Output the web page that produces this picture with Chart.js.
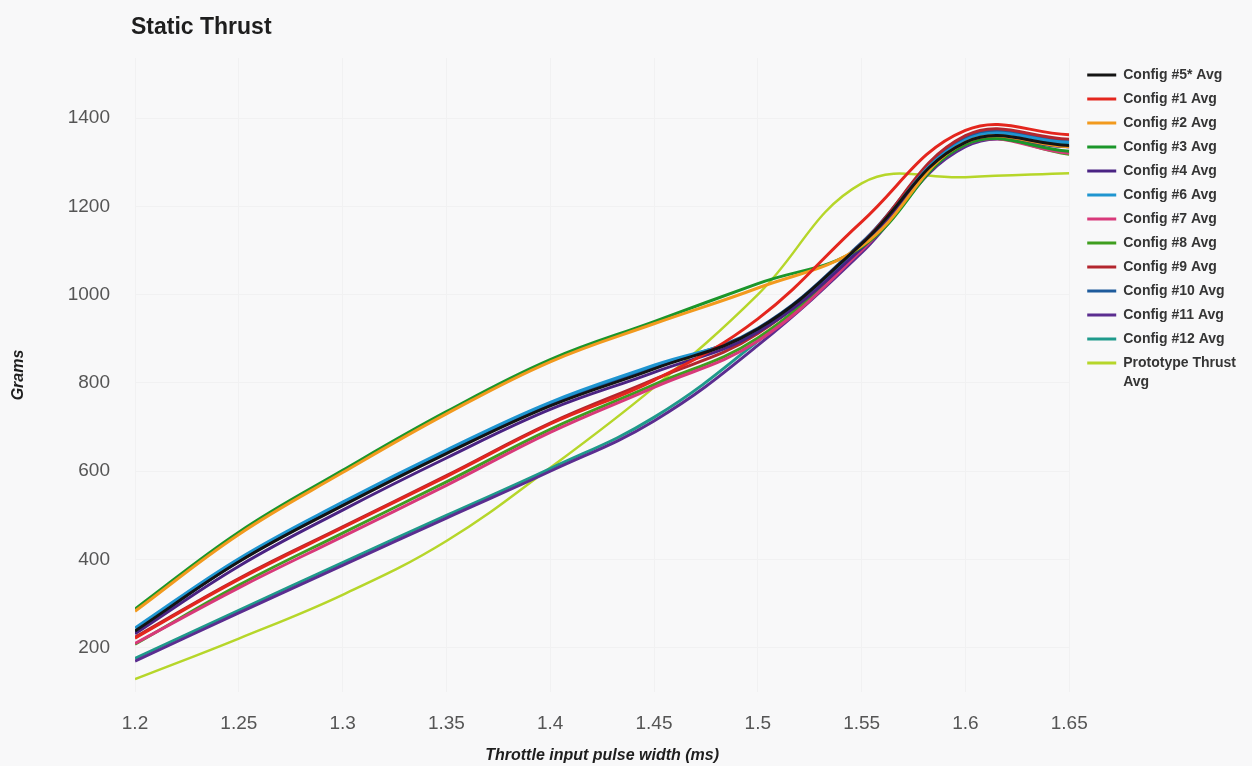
<!DOCTYPE html>
<html>
<head>
<meta charset="utf-8">
<script src="https://cdn.jsdelivr.net/npm/chart.js@4.4.1/dist/chart.umd.min.js"></script>
<style>
  html, body { margin: 0; padding: 0; background: #f8f8f9; }
  canvas { display: block; }
</style>
</head>
<body>
<canvas id="c" width="1252" height="766"></canvas>
<script>
// ---- text ----
const chartTitle = 'Static Thrust';
const xAxisTitle = 'Throttle input pulse width (ms)';
const yAxisTitle = 'Grams';

// ---- axes ----
const pulseWidths = [1.2, 1.25, 1.3, 1.35, 1.4, 1.45, 1.5, 1.55, 1.6, 1.65];
const xTicks = [1.2, 1.25, 1.3, 1.35, 1.4, 1.45, 1.5, 1.55, 1.6, 1.65];
const yTicks = [200, 400, 600, 800, 1000, 1200, 1400];

// ---- series (grams at each pulse width) ----
const seriesNames = ['Config #5* Avg', 'Config #1 Avg', 'Config #2 Avg', 'Config #3 Avg', 'Config #4 Avg',
  'Config #6 Avg', 'Config #7 Avg', 'Config #8 Avg', 'Config #9 Avg', 'Config #10 Avg',
  'Config #11 Avg', 'Config #12 Avg', 'Prototype Thrust Avg'];
const config5 = [238, 395, 522, 640, 748, 832, 922, 1115, 1345, 1338];
const config1 = [222, 355, 472, 588, 707, 806, 945, 1165, 1372, 1362];
const config2 = [283, 457, 597, 730, 848, 934, 1015, 1110, 1345, 1335];
const config3 = [288, 462, 602, 735, 853, 939, 1025, 1108, 1340, 1325];
const config4 = [232, 385, 512, 630, 740, 824, 915, 1105, 1342, 1335];
const config6 = [245, 402, 530, 648, 756, 840, 920, 1112, 1350, 1345];
const config7 = [210, 336, 452, 568, 688, 790, 895, 1100, 1340, 1320];
const config8 = [208, 342, 460, 576, 695, 796, 902, 1105, 1345, 1318];
const config9 = [224, 357, 474, 590, 709, 808, 912, 1115, 1360, 1352];
const config10 = [236, 396, 524, 643, 751, 836, 924, 1118, 1355, 1348];
const config11 = [170, 279, 387, 494, 600, 714, 885, 1095, 1335, 1335];
const config12 = [176, 285, 393, 500, 606, 722, 895, 1102, 1340, 1340];
const prototype = [129, 221, 320, 442, 608, 790, 1000, 1252, 1266, 1275];

const seriesValues = [config5, config1, config2, config3, config4, config6, config7,
  config8, config9, config10, config11, config12, prototype];
const seriesColors = ['#141414', '#e4261e', '#f29a1e', '#1b962a', '#4a2383', '#1f95d0', '#d8397a',
  '#3f9e1f', '#b3262e', '#1e5b9c', '#5b2d90', '#1f9a8c', '#b6d62a'];

const FONT = "'Liberation Sans', Arial, sans-serif";

const datasets = seriesNames.map((name, i) => ({
  label: name,
  data: pulseWidths.map((x, j) => ({ x: x, y: seriesValues[i][j] })),
  borderColor: seriesColors[i],
  backgroundColor: seriesColors[i],
  borderWidth: i === 12 ? 2.5 : 3,
  pointRadius: 0,
  tension: 0.4,
  fill: false
}));

const leftTitle = {
  id: 'leftTitle',
  afterDraw(chart) {
    const ctx = chart.ctx;
    ctx.save();
    ctx.font = 'bold 23px ' + FONT;
    ctx.fillStyle = '#1e1e1e';
    ctx.textBaseline = 'alphabetic';
    ctx.textAlign = 'left';
    ctx.fillText(chartTitle, 131, 34);
    ctx.restore();
  }
};

new Chart(document.getElementById('c'), {
  type: 'line',
  data: { datasets },
  plugins: [leftTitle],
  options: {
    responsive: false,
    animation: false,
    layout: { padding: { top: 58, right: 6, bottom: 0, left: 0 } },
    plugins: {
      title: { display: false },
      tooltip: { enabled: false },
      legend: {
        position: 'right',
        align: 'start',
        labels: {
          boxWidth: 29,
          boxHeight: 3,
          padding: 10,
          color: '#353535',
          font: { family: FONT, size: 14, weight: 'bold', lineHeight: 1.4 },
          generateLabels(chart) {
            const items = Chart.defaults.plugins.legend.labels.generateLabels(chart);
            items.forEach(it => {
              it.fillStyle = it.strokeStyle;
              it.lineWidth = 0;
              if (it.text.length > 16) {
                const k = it.text.lastIndexOf(' ');
                it.text = [it.text.slice(0, k), it.text.slice(k + 1)];
              }
            });
            return items;
          }
        }
      }
    },
    scales: {
      x: {
        type: 'linear',
        min: pulseWidths[0],
        max: pulseWidths[pulseWidths.length - 1],
        afterBuildTicks: s => { s.ticks = xTicks.map(v => ({ value: v })); },
        afterFit: s => { s.height = 74; },
        border: { display: false },
        grid: { color: '#f1f1f2', drawTicks: false },
        ticks: {
          padding: 20,
          color: '#555',
          font: { family: FONT, size: 19 },
          maxRotation: 0,
          callback: v => String(Math.round(v * 100) / 100)
        },
        title: {
          display: true,
          text: xAxisTitle,
          color: '#1e1e1e',
          font: { family: FONT, size: 16, weight: 'bold', style: 'italic' },
          padding: { top: 0, bottom: 1 }
        }
      },
      y: {
        min: 100,
        max: 1536,
        afterBuildTicks: s => { s.ticks = yTicks.map(v => ({ value: v })); },
        afterFit: s => { s.width = 135; },
        border: { display: false },
        grid: { color: '#f1f1f2', drawTicks: false },
        ticks: {
          padding: 25,
          color: '#555',
          font: { family: FONT, size: 19 },
          callback: v => String(v)
        },
        title: {
          display: true,
          text: yAxisTitle,
          color: '#1e1e1e',
          font: { family: FONT, size: 16, weight: 'bold', style: 'italic' },
          padding: { top: 9, bottom: 0 }
        }
      },
      gap: {
        position: 'right',
        display: true,
        afterFit: s => { s.width = 8; },
        grid: { display: false },
        border: { display: false },
        ticks: { display: false }
      }
    }
  }
});
</script>
</body>
</html>
